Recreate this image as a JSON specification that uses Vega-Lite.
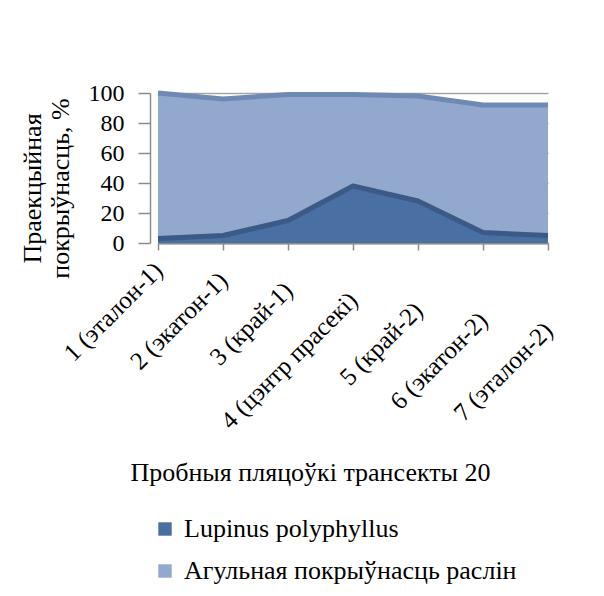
{
  "$schema": "https://vega.github.io/schema/vega-lite/v6.json",
  "autosize": {"type": "none"},
  "width": 390,
  "height": 150,
  "padding": {"left": 158, "top": 93, "right": 56, "bottom": 353},
  "background": "white",
  "config": {
    "view": {"stroke": null},
    "font": "Liberation Serif",
    "axis": {"labelFont": "Liberation Serif", "titleFont": "Liberation Serif", "labelColor": "#000000", "titleColor": "#000000", "titleFontWeight": "normal"},
    "legend": {"labelFont": "Liberation Serif", "labelColor": "#000000"}
  },
  "datasets": {
    "cover": [
      {"site": "1 (эталон-1)", "series": "Агульная покрыўнасць раслін", "value": 100},
      {"site": "2 (экатон-1)", "series": "Агульная покрыўнасць раслін", "value": 96},
      {"site": "3 (край-1)", "series": "Агульная покрыўнасць раслін", "value": 99},
      {"site": "4 (цэнтр прасекі)", "series": "Агульная покрыўнасць раслін", "value": 99},
      {"site": "5 (край-2)", "series": "Агульная покрыўнасць раслін", "value": 98},
      {"site": "6 (экатон-2)", "series": "Агульная покрыўнасць раслін", "value": 92},
      {"site": "7 (эталон-2)", "series": "Агульная покрыўнасць раслін", "value": 92},
      {"site": "1 (эталон-1)", "series": "Lupinus polyphyllus", "value": 3},
      {"site": "2 (экатон-1)", "series": "Lupinus polyphyllus", "value": 5},
      {"site": "3 (край-1)", "series": "Lupinus polyphyllus", "value": 15},
      {"site": "4 (цэнтр прасекі)", "series": "Lupinus polyphyllus", "value": 38},
      {"site": "5 (край-2)", "series": "Lupinus polyphyllus", "value": 28},
      {"site": "6 (экатон-2)", "series": "Lupinus polyphyllus", "value": 7},
      {"site": "7 (эталон-2)", "series": "Lupinus polyphyllus", "value": 5}
    ]
  },
  "data": {"name": "cover"},
  "encoding": {
    "x": {
      "field": "site", "type": "nominal", "sort": null,
      "scale": {"type": "point", "padding": 0},
      "axis": {
        "title": "Пробныя пляцоўкі трансекты 20",
        "titleFontSize": 26,
        "titleX": 152, "titleY": 237,
        "titleAnchor": "start", "titleAlign": "center", "titleBaseline": "alphabetic",
        "labelAngle": -45, "labelAlign": "right", "labelBaseline": "middle",
        "labelFontSize": 25, "labelLimit": 400,
        "labelPadding": {"expr": "6 + 10 * toNumber(substring(datum.label, 0, 1))"},
        "domainColor": "#8c8c8c", "domainWidth": 2,
        "tickColor": "#8c8c8c", "tickSize": 7, "tickWidth": 1.5,
        "grid": false
      }
    },
    "y": {
      "field": "value", "type": "quantitative",
      "scale": {"domain": [0, 100], "nice": false},
      "axis": {
        "title": ["Праекцыйная", "покрыўнасць, %"],
        "titleFontSize": 26, "titleLineHeight": 28,
        "titleX": -118, "titleY": 95, "titleAngle": -90,
        "titleAlign": "center", "titleBaseline": "middle", "titleAnchor": "start",
        "values": [0, 20, 40, 60, 80, 100],
        "labelFontSize": 24, "labelPadding": 14,
        "offset": 8,
        "domainColor": "#8c8c8c", "domainWidth": 1.5,
        "tickColor": "#8c8c8c", "tickSize": 12, "tickWidth": 1.5,
        "grid": true, "gridColor": "#a6a6a6", "gridWidth": 1.5
      }
    }
  },
  "layer": [
    {
      "transform": [{"filter": "datum.series === 'Агульная покрыўнасць раслін'"}],
      "mark": {"type": "area", "opacity": 1},
      "encoding": {
        "color": {
          "field": "series", "type": "nominal",
          "scale": {"domain": ["Lupinus polyphyllus", "Агульная покрыўнасць раслін"], "range": ["#4a6fa3", "#93a8cd"]},
          "legend": {
            "title": null, "orient": "none", "legendX": -6, "legendY": 423,
            "padding": 0, "symbolType": "square", "symbolSize": 180,
            "symbolStrokeWidth": 0, "symbolOpacity": 1,
            "labelFontSize": 26, "labelOffset": 6, "rowPadding": 16, "labelLimit": 420
          }
        }
      }
    },
    {
      "transform": [{"filter": "datum.series === 'Агульная покрыўнасць раслін'"}],
      "mark": {"type": "line", "color": "#6f89b5", "strokeWidth": 5, "strokeJoin": "round"},
      "encoding": {}
    },
    {
      "transform": [{"filter": "datum.series === 'Lupinus polyphyllus'"}],
      "mark": {"type": "area", "opacity": 1},
      "encoding": {
        "color": {"field": "series", "type": "nominal"}
      }
    },
    {
      "transform": [{"filter": "datum.series === 'Lupinus polyphyllus'"}],
      "mark": {"type": "line", "color": "#3b5a85", "strokeWidth": 5, "strokeJoin": "round"},
      "encoding": {}
    }
  ]
}
